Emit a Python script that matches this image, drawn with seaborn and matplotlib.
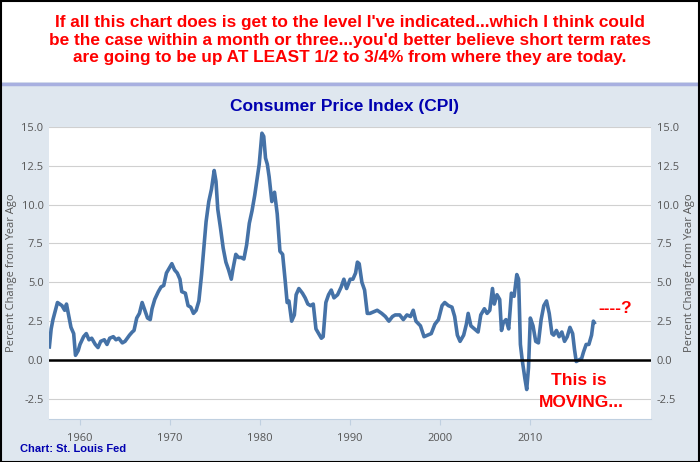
import numpy as np
import pandas as pd
import matplotlib
matplotlib.use("Agg")
import matplotlib.pyplot as plt
import seaborn as sns
from matplotlib.patches import Rectangle

years = [1956.6,1956.8,1957.0,1957.5,1958.0,1958.3,1958.5,1958.7,1959.0,1959.3,1959.5,1959.8,
 1960.0,1960.4,1960.7,1961.0,1961.3,1961.7,1962.0,1962.3,1962.7,1963.0,1963.3,1963.7,1964.0,1964.3,1964.7,
 1965.0,1965.5,1965.8,1966.0,1966.3,1966.6,1966.9,1967.2,1967.5,1967.8,1968.0,1968.3,1968.7,1969.0,1969.3,1969.6,
 1970.0,1970.2,1970.5,1970.8,1971.1,1971.3,1971.7,1972.0,1972.3,1972.6,1972.9,1973.2,1973.5,1973.8,1974.0,1974.3,
 1974.6,1974.9,1975.1,1975.3,1975.6,1975.9,1976.2,1976.5,1976.8,1977.0,1977.3,1977.6,1977.9,1978.2,1978.5,1978.8,
 1979.1,1979.4,1979.7,1979.9,1980.2,1980.4,1980.6,1980.8,1981.0,1981.3,1981.6,1981.9,1982.2,1982.5,1982.8,1983.0,
 1983.2,1983.5,1983.8,1984.0,1984.3,1984.7,1985.0,1985.3,1985.6,1985.9,1986.2,1986.5,1986.8,1987.0,1987.3,1987.6,
 1987.9,1988.2,1988.6,1989.0,1989.3,1989.6,1990.0,1990.3,1990.6,1990.8,1991.0,1991.3,1991.6,1991.9,1992.2,1992.6,
 1993.0,1993.5,1993.9,1994.3,1994.7,1995.0,1995.5,1995.9,1996.3,1996.7,1997.0,1997.3,1997.8,1998.2,1998.6,1999.0,
 1999.4,1999.8,2000.2,2000.5,2000.9,2001.3,2001.6,2001.9,2002.2,2002.6,2002.9,2003.1,2003.4,2003.8,2004.2,2004.5,
 2004.9,2005.2,2005.5,2005.8,2006.0,2006.3,2006.6,2006.8,2007.0,2007.3,2007.6,2007.9,2008.2,2008.5,2008.7,2008.9,
 2009.1,2009.4,2009.6,2009.8,2010.0,2010.3,2010.6,2010.9,2011.2,2011.5,2011.8,2012.1,2012.4,2012.6,2012.9,2013.2,
 2013.5,2013.8,2014.1,2014.4,2014.7,2014.9,2015.1,2015.4,2015.7,2015.9,2016.2,2016.5,2016.8,2017.0,2017.1]
cpi = [0.84,2.0,2.6,3.7,3.5,3.2,3.6,3.0,2.1,1.7,0.3,0.6,
 1.0,1.5,1.7,1.3,1.4,1.0,0.8,1.2,1.3,1.0,1.4,1.5,1.3,1.4,1.1,
 1.2,1.6,1.8,1.9,2.7,3.0,3.7,3.2,2.7,2.6,3.3,3.9,4.4,4.7,4.8,5.6,
 6.0,6.2,5.8,5.6,5.2,4.4,4.3,3.5,3.4,3.0,3.2,3.8,5.5,7.5,8.9,10.2,
 11.0,12.2,11.5,9.7,8.5,7.2,6.3,5.8,5.2,5.9,6.8,6.6,6.6,6.5,7.4,8.8,
 9.6,10.6,11.8,12.6,14.6,14.4,13.0,12.6,11.8,10.2,10.8,9.4,7.0,6.8,5.0,3.7,
 3.8,2.5,2.9,4.2,4.6,4.3,4.0,3.6,3.5,3.6,2.0,1.7,1.4,1.5,3.7,4.2,
 4.5,4.0,4.2,4.7,5.2,4.6,5.2,5.2,5.6,6.3,6.2,5.0,4.5,3.0,3.0,3.1,
 3.2,3.0,2.8,2.5,2.8,2.9,2.9,2.6,2.9,2.8,3.2,2.5,2.2,1.5,1.6,1.7,
 2.3,2.6,3.5,3.7,3.5,3.4,2.8,1.6,1.2,1.6,2.3,3.0,2.2,2.0,1.8,2.9,
 3.3,3.0,3.2,4.6,3.6,4.2,3.9,1.9,2.4,2.6,2.0,4.3,4.1,5.5,5.2,1.0,
 0.0,-1.2,-1.9,-0.5,2.7,2.2,1.2,1.1,2.6,3.5,3.8,3.0,1.7,1.6,1.9,1.5,
 1.8,1.2,1.5,2.1,1.7,0.7,-0.1,0.0,0.1,0.5,1.0,1.0,1.6,2.5,2.4]
yticks = [-2.5, 0.0, 2.5, 5.0, 7.5, 10.0, 12.5, 15.0]
xticks = [1960, 1970, 1980, 1990, 2000, 2010]

df = pd.DataFrame({"year": years, "cpi": cpi})
BG = "#dfe7ef"
TICKFONT = "Open Sans"
fig = plt.figure(figsize=(7, 4.62), dpi=100)
fig.patch.set_facecolor(BG)
fig.add_artist(Rectangle((0, 1 - 82/462), 1, 82/462, transform=fig.transFigure,
                         facecolor="white", edgecolor="none", zorder=0))
fig.add_artist(plt.Line2D([0, 1], [1-84/462, 1-84/462], transform=fig.transFigure, color="#a8b0e0", lw=2.5))
fig.add_artist(Rectangle((0.001, 0.001), 0.998, 0.997, transform=fig.transFigure,
                         facecolor="none", edgecolor="black", lw=1.5, zorder=10))
fig.text(0.5, 1 - 40/462,
         "If all this chart does is get to the level I've indicated...which I think could\n"
         "be the case within a month or three...you'd better believe short term rates\n"
         "are going to be up AT LEAST 1/2 to 3/4% from where they are today.",
         ha="center", va="center", color="#ff0000", fontsize=12.4, fontweight="bold",
         family="Liberation Sans", linespacing=1.2)

ax = fig.add_axes([49/700, 1 - 419/462, 602/700, 292/462])
ax.set_facecolor("white")
sns.lineplot(data=df, x="year", y="cpi", ax=ax, color="#4572a7", lw=2.6)
ax.axhline(0, color="black", lw=1.8)
ax.set_xlim(1956.56, 2023.4)
ax.set_ylim(-3.8, 15)
ax.set_yticks(yticks)
ax.set_yticklabels([f"{v:.1f}" for v in yticks], family=TICKFONT)
ax.set_xticks(xticks)
ax.set_xticklabels([str(v) for v in xticks], family=TICKFONT)
ax.grid(axis="y", color="#d0d0d0", lw=0.8)
ax.grid(axis="x", visible=False)
ax.set_axisbelow(True)
for s in ax.spines.values():
    s.set_visible(False)
ax.spines["bottom"].set_visible(True)
ax.spines["bottom"].set_color("#c0d0e0")
ax.tick_params(axis="y", length=0, labelsize=8, labelcolor="#555555", pad=4)
ax.tick_params(axis="x", length=4, color="#c0d0e0", labelsize=8, labelcolor="#555555", pad=6)
ax.set_xlabel("")
ax.set_ylabel("Percent Change from Year Ago", fontsize=8, color="#555555", labelpad=3, family=TICKFONT)

ax2 = ax.twinx()
ax2.set_ylim(ax.get_ylim())
ax2.set_yticks(yticks)
ax2.set_yticklabels([f"{v:.1f}" for v in yticks], family=TICKFONT)
for s in ax2.spines.values():
    s.set_visible(False)
ax2.tick_params(axis="y", length=0, labelsize=8, labelcolor="#555555", pad=4)
ax2.set_ylabel("Percent Change from Year Ago", fontsize=8, color="#555555", labelpad=4, family=TICKFONT)

fig.text(345/700, 1 - 107/462, "Consumer Price Index (CPI)", ha="center", va="center",
         color="#0000b0", fontsize=12.5, fontweight="bold", family="Liberation Sans")
ax.text(2017.6, 3.3, "----?", color="#ff0000", fontsize=12.5, fontweight="bold", va="center",
        family="Liberation Sans")
ax.text(2015.4, -1.3, "This is", color="#ff0000", fontsize=12.5, fontweight="bold",
        ha="center", va="center", family="Liberation Sans")
ax.text(2015.7, -2.75, "MOVING...", color="#ff0000", fontsize=12.5, fontweight="bold",
        ha="center", va="center", family="Liberation Sans")
fig.text(20/700, 1 - 449/462, "Chart: St. Louis Fed", color="#0000b0", fontsize=8,
         fontweight="bold", va="center", family="Liberation Sans")
fig.savefig("out.png", dpi=100, facecolor=fig.get_facecolor())
